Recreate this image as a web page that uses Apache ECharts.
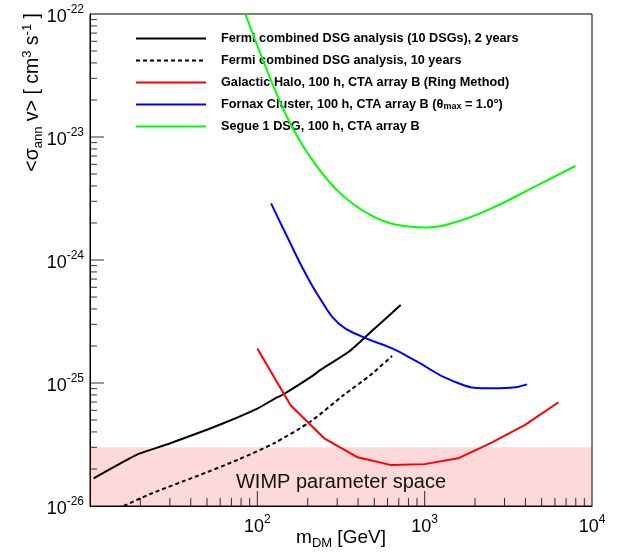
<!DOCTYPE html>
<html><head><meta charset="utf-8">
<script src="https://cdn.jsdelivr.net/npm/echarts@6/dist/echarts.min.js"></script>
<style>html,body{margin:0;padding:0;background:#fff}#c{width:631px;height:553px}</style>
</head><body><div id="c"></div>
<script>
// ---- data (m_DM in GeV, <sigma v> in cm^3 s^-1) ----
const fermi2M = [10.5, 16.6, 19.5, 30.2, 58.5, 100.7, 128, 143.6, 207, 241, 355, 500, 719];
const fermi2S = [1.68e-26, 2.37e-26, 2.65e-26, 3.24e-26, 4.53e-26, 6.22e-26, 7.51e-26, 8.1e-26, 1.11e-25, 1.29e-25, 1.81e-25, 2.76e-25, 4.31e-25];

const fermi10M = [15.9, 23.5, 42.6, 77.3, 128, 207, 328, 474, 639];
const fermi10S = [1.0e-26, 1.27e-26, 1.73e-26, 2.39e-26, 3.28e-26, 4.84e-26, 7.98e-26, 1.16e-25, 1.66e-25];

const haloM = [100, 158, 251, 398, 631, 1000, 1585, 2512, 3981, 6310];
const haloS = [1.91e-25, 6.6e-26, 3.55e-26, 2.49e-26, 2.15e-26, 2.19e-26, 2.44e-26, 3.27e-26, 4.56e-26, 6.97e-26];

const fornaxM = [120.8, 153.9, 193.6, 243.6, 306, 423, 639, 880, 1490, 2360, 3253, 4094];
const fornaxS = [2.89e-24, 1.46e-24, 7.8e-25, 4.58e-25, 3.05e-25, 2.38e-25, 1.91e-25, 1.52e-25, 1.03e-25, 9.06e-26, 9.16e-26, 9.75e-26];

const segueM = [84.8, 125.2, 164.8, 227.4, 313.4, 452.6, 652.8, 1033, 1635, 2585, 4093, 7958];
const segueS = [1.0e-22, 2.56e-23, 1.14e-23, 5.74e-24, 3.48e-24, 2.4e-24, 1.95e-24, 1.84e-24, 2.09e-24, 2.68e-24, 3.66e-24, 5.81e-24];

const wimpBand = [1e-26, 3e-26];
const wimpLabel = 'WIMP parameter space';

const seriesNames = [
  'Fermi combined DSG analysis (10 DSGs), 2 years',
  'Fermi combined DSG analysis, 10 years',
  'Galactic Halo, 100 h, CTA array B (Ring Method)',
  'Fornax Cluster, 100 h, CTA array B (theta_max = 1.0)',
  'Segue 1 DSG, 100 h, CTA array B'
];
const legendLabels = {
  'Fornax Cluster, 100 h, CTA array B (theta_max = 1.0)': 'Fornax Cluster, 100 h, CTA array B (θ{sub|max} = 1.0°)'
};

const xRange = [10, 10000];
const yRange = [1e-26, 1e-22];
const minorMult = [2, 3, 4, 5, 6, 7, 8, 9];
const xDecades = [10, 100, 1000];
const yDecades = [1e-26, 1e-25, 1e-24, 1e-23];
const xMajorTicks = [100, 1000];
const yMajorTicks = [1e-25, 1e-24, 1e-23];

// ---- build ----
// ECharts' log scale rounds tick values to 1e-10, so the y axis works in
// units of 1e-26 cm^3 s^-1; labels add the exponent back.
const Y_UNIT_EXP = -26;
const Y_UNIT = 1e-26;
const FONT = 'Liberation Sans';
function zip(a, b) { return a.map((v, i) => [v, b[i] / Y_UNIT]); }
const yBottom = yRange[0] / Y_UNIT;
const xMinorPts = [];
xDecades.forEach(d => minorMult.forEach(k => xMinorPts.push([k * d, yBottom])));
const yMinorPts = [];
yDecades.forEach(d => minorMult.forEach(k => yMinorPts.push([xRange[0], k * d / Y_UNIT])));
const xMajorPts = xMajorTicks.map(v => [v, yBottom]);
const yMajorPts = yMajorTicks.map(v => [xRange[0], v / Y_UNIT]);

function lineSeries(name, M, S, color, dash, smooth) {
  return {
    name: name, type: 'line', data: zip(M, S), showSymbol: false, symbol: 'none', symbolSize: 0,
    smooth: smooth || false, clip: true, z: 4,
    lineStyle: { color: color, width: 2, type: dash || 'solid' },
    itemStyle: { color: color }, emphasis: { disabled: true }
  };
}
function tickSeries(data, size, offset) {
  return {
    type: 'scatter', silent: true, clip: false, z: 6, data: data,
    symbol: 'rect', symbolSize: size, symbolOffset: offset,
    itemStyle: { color: '#000' }, emphasis: { disabled: true }
  };
}
function expLabel(e) { return '{b|10}{s|' + e + '}'; }
const labelRich = {
  b: { fontSize: 18, lineHeight: 26, fontFamily: FONT, color: '#000' },
  s: { fontSize: 12, lineHeight: 14, verticalAlign: 'top', fontFamily: FONT, color: '#000' }
};

const chart = echarts.init(document.getElementById('c'), null, { renderer: 'canvas' });
const series = [
  lineSeries(seriesNames[0], fermi2M, fermi2S, '#000000', null, 0.2),
  lineSeries(seriesNames[1], fermi10M, fermi10S, '#000000', [4, 3], 0.25),
  lineSeries(seriesNames[2], haloM, haloS, '#ff0000'),
  lineSeries(seriesNames[3], fornaxM, fornaxS, '#0000ff', null, 0.5),
  lineSeries(seriesNames[4], segueM, segueS, '#00ff00', null, 0.4)
];
series[0].markArea = {
  silent: true,
  itemStyle: { color: 'rgba(245,0,0,0.15)' },
  label: { show: true, position: 'inside', offset: [0, 6], fontSize: 20, fontFamily: FONT, color: '#111' },
  data: [[{ yAxis: wimpBand[0] / Y_UNIT, name: wimpLabel }, { yAxis: wimpBand[1] / Y_UNIT }]]
};
series.push(tickSeries(xMinorPts, [1, 8], [0, -4]));
series.push(tickSeries(xMajorPts, [1, 15], [0, -7.5]));
series.push(tickSeries(yMinorPts, [7, 1], [3.5, 0]));
series.push(tickSeries(yMajorPts, [14, 1], [7, 0]));

chart.setOption({
  animation: false,
  backgroundColor: '#fff',
  textStyle: { fontFamily: FONT },
  grid: { left: 90, right: 39, top: 14, bottom: 47, show: true, borderColor: '#000', borderWidth: 1, containLabel: false },
  xAxis: {
    type: 'log', logBase: 10, min: xRange[0], max: xRange[1],
    axisLine: { show: true, lineStyle: { color: '#000', width: 1 } },
    axisTick: { show: false },
    splitLine: { show: false },
    axisLabel: {
      show: true, margin: 8, showMinLabel: true, showMaxLabel: true,
      formatter: function (v) { const e = Math.round(Math.log10(v)); return e === 1 ? '' : expLabel(e); },
      rich: labelRich
    }
  },
  yAxis: {
    type: 'log', logBase: 10, min: yRange[0] / Y_UNIT, max: yRange[1] / Y_UNIT,
    axisLine: { show: true, lineStyle: { color: '#000', width: 1 } },
    axisTick: { show: false },
    splitLine: { show: false },
    axisLabel: {
      show: true, margin: 6, showMinLabel: true, showMaxLabel: true,
      formatter: function (v) { return expLabel(Math.round(Math.log10(v)) + Y_UNIT_EXP); },
      rich: labelRich, padding: [6, 0, 0, 0]
    }
  },
  legend: {
    data: seriesNames, orient: 'vertical', left: 135, top: 32, padding: 0,
    itemWidth: 70, itemHeight: 14, itemGap: 9, selectedMode: false,
    itemStyle: { opacity: 0 },
    formatter: function (n) { return legendLabels[n] || n; },
    textStyle: {
      fontSize: 12.7, fontWeight: 'bold', fontFamily: FONT, color: '#000', padding: [0, 0, 0, 10],
      rich: { sub: { fontSize: 9, fontWeight: 'bold', fontFamily: FONT, verticalAlign: 'bottom', lineHeight: 10 } }
    }
  },
  graphic: [
    {
      type: 'text', x: 33, y: 13, rotation: Math.PI / 2, silent: true,
      style: {
        text: '<σ{d|ann} v> [ cm{u|3} s{u|-1} ]',
        fontSize: 19.5, fontFamily: FONT, fill: '#000', align: 'right', verticalAlign: 'middle', lineHeight: 24,
        rich: {
          d: { fontSize: 13, fontFamily: FONT, verticalAlign: 'bottom', lineHeight: 16 },
          u: { fontSize: 13, fontFamily: FONT, verticalAlign: 'top', lineHeight: 14 }
        }
      }
    },
    {
      type: 'text', x: 341, y: 538, silent: true,
      style: {
        text: 'm{d|DM} [GeV]',
        fontSize: 19, fontFamily: FONT, fill: '#000', align: 'center', verticalAlign: 'middle', lineHeight: 24,
        rich: { d: { fontSize: 13, fontFamily: FONT, verticalAlign: 'bottom', lineHeight: 16 } }
      }
    }
  ],
  series: series
});
</script></body></html>
